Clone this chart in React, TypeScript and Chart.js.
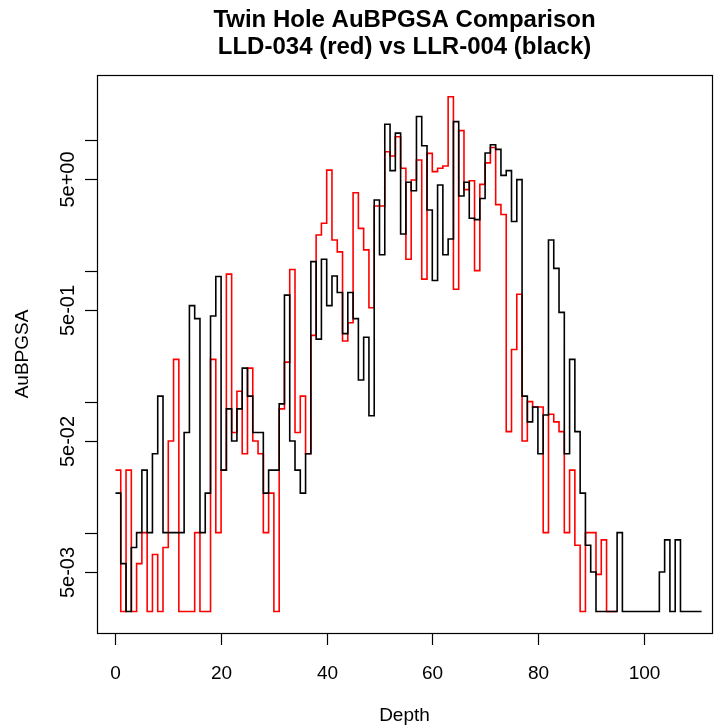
import React, { useEffect, useRef } from "react";
import { Chart, registerables } from "chart.js";

Chart.register(...registerables);

// Depth (sample index, 1 m steps)
const depths: number[] = [
  0, 1, 2, 3, 4, 5, 6, 7, 8, 9, 10, 11, 12, 13, 14, 15, 16, 17, 18, 19,
  20, 21, 22, 23, 24, 25, 26, 27, 28, 29, 30, 31, 32, 33, 34, 35, 36, 37, 38, 39,
  40, 41, 42, 43, 44, 45, 46, 47, 48, 49, 50, 51, 52, 53, 54, 55, 56, 57, 58, 59,
  60, 61, 62, 63, 64, 65, 66, 67, 68, 69, 70, 71, 72, 73, 74, 75, 76, 77, 78, 79,
  80, 81, 82, 83, 84, 85, 86, 87, 88, 89, 90, 91, 92, 93, 94, 95, 96, 97, 98, 99,
  100, 101, 102, 103, 104, 105, 106, 107, 108, 109, 110, 111,
];

// LLR-004 (black)
const blackAu: number[] = [
  0.02, 0.0058, 0.0025, 0.0077, 0.01, 0.03, 0.01, 0.04, 0.11, 0.01,
  0.01, 0.01, 0.01, 0.058, 0.54, 0.43, 0.01, 0.02, 0.45, 0.9,
  0.03, 0.088, 0.05, 0.088, 0.18, 0.11, 0.058, 0.058, 0.02, 0.03,
  0.03, 0.096, 0.65, 0.05, 0.03, 0.02, 0.04, 1.17, 0.3, 1.22,
  0.54, 0.91, 0.68, 0.33, 0.68, 0.43, 0.146, 0.31, 0.078, 3.46,
  1.32, 13.1, 5.79, 11.2, 1.9, 4.72, 4.07, 15, 8.98, 2.9,
  0.84, 4.5, 1.32, 1.74, 13.7, 3.71, 4.72, 2.51, 2.45, 3.55,
  7.9, 9.12, 8.41, 5.33, 5.79, 2.37, 4.95, 0.11, 0.07, 0.091,
  0.04, 0.079, 1.71, 1.04, 0.48, 0.04, 0.21, 0.059, 0.02, 0.008,
  0.005, 0.0025, 0.0025, 0.0025, 0.0025, 0.01, 0.0025, 0.0025, 0.0025, 0.0025,
  0.0025, 0.0025, 0.0025, 0.005, 0.0088, 0.0025, 0.0088, 0.0025, 0.0025, 0.0025,
  0.0025, 0.0025,
];

// LLD-034 (red)
const redAu: number[] = [
  0.03, 0.0025, 0.03, 0.0025, 0.0058, 0.01, 0.0025, 0.0068, 0.0025, 0.0077,
  0.05, 0.21, 0.0025, 0.0025, 0.0025, 0.01, 0.0025, 0.0025, 0.21, 0.01,
  0.03, 0.94, 0.058, 0.12, 0.04, 0.18, 0.05, 0.04, 0.01, 0.02,
  0.0025, 0.088, 0.2, 1.02, 0.058, 0.11, 0.04, 0.32, 1.87, 2.3,
  5.85, 1.71, 1.39, 0.29, 0.4, 3.93, 2.1, 1.44, 0.52, 3.11,
  3.11, 8.07, 7.5, 10.5, 6.04, 1.22, 4.91, 6.98, 0.86, 7.85,
  5.69, 6.04, 6.28, 21.2, 0.72, 11.7, 4.15, 4.85, 1.0, 4.55,
  6.64, 8.69, 3.19, 2.68, 0.059, 0.25, 0.66, 0.05, 0.1, 0.091,
  0.091, 0.01, 0.08, 0.07, 0.059, 0.01, 0.03, 0.008, 0.0025, 0.01,
  0.01, 0.0048, 0.0088, 0.0025, 0.0025, 0.0025,
];

const xTicks: number[] = [0, 20, 40, 60, 80, 100];
const yTicks: number[] = [10, 5, 1, 0.5, 0.1, 0.05, 0.01, 0.005];
const yTickLabels: string[] = ["", "5e+00", "", "5e-01", "", "5e-02", "", "5e-03"];

const titleLines: string[] = [
  "Twin Hole AuBPGSA Comparison",
  "LLD-034 (red) vs LLR-004 (black)",
];
const xTitle = "Depth";
const yTitle = "AuBPGSA";

const FONT = '"Liberation Sans", Arial, sans-serif';

const rAxesPlugin = {
  id: "rAxes",
  afterDraw(chart: any) {
    const ctx: CanvasRenderingContext2D = chart.ctx;
    const { left, right, top, bottom } = chart.chartArea;
    const xs = chart.scales.x;
    const ys = chart.scales.y;
    ctx.save();
    ctx.strokeStyle = "#000";
    ctx.fillStyle = "#000";
    ctx.lineWidth = 1.2;
    // box
    ctx.strokeRect(Math.round(left) + 0.5, Math.round(top) + 0.5, Math.round(right - left), Math.round(bottom - top));
    // x ticks
    ctx.font = `19px ${FONT}`;
    ctx.textAlign = "center";
    ctx.textBaseline = "alphabetic";
    xTicks.forEach((t) => {
      const px = Math.round(xs.getPixelForValue(t)) + 0.5;
      ctx.beginPath();
      ctx.moveTo(px, bottom);
      ctx.lineTo(px, bottom + 12);
      ctx.stroke();
      ctx.fillText(String(t), px, 679);
    });
    // y ticks
    yTicks.forEach((t, i) => {
      const py = Math.round(ys.getPixelForValue(t)) + 0.5;
      ctx.beginPath();
      ctx.moveTo(left, py);
      ctx.lineTo(left - 12, py);
      ctx.stroke();
      const lab = yTickLabels[i];
      if (lab) {
        ctx.save();
        ctx.translate(74, py);
        ctx.rotate(-Math.PI / 2);
        ctx.font = `20px ${FONT}`;
        ctx.textAlign = "center";
        ctx.textBaseline = "alphabetic";
        ctx.fillText(lab, 0, 0);
        ctx.restore();
      }
    });
    // axis titles
    ctx.font = `19px ${FONT}`;
    ctx.textAlign = "center";
    ctx.fillText(xTitle, (left + right) / 2, 721);
    ctx.save();
    ctx.translate(28, (top + bottom) / 2);
    ctx.rotate(-Math.PI / 2);
    ctx.fillText(yTitle, 0, 0);
    ctx.restore();
    // main title
    ctx.font = `bold 24px ${FONT}`;
    ctx.fillText(titleLines[0], (left + right) / 2, 27);
    ctx.fillText(titleLines[1], (left + right) / 2, 54);
    ctx.restore();
  },
};

export default function App() {
  const ref = useRef<HTMLCanvasElement | null>(null);
  useEffect(() => {
    if (!ref.current) return;
    const blackPts = blackAu.map((v, i) => ({ x: depths[i], y: v }));
    const redPts = redAu.map((v, i) => ({ x: depths[i], y: v }));
    const chart = new Chart(ref.current, {
      type: "line",
      data: {
        datasets: [
          {
            label: "LLR-004",
            data: blackPts,
            borderColor: "#000000",
            borderWidth: 1.6,
            stepped: "before",
            pointRadius: 0,
            fill: false,
          },
          {
            label: "LLD-034",
            data: redPts,
            borderColor: "#ff0000",
            borderWidth: 1.6,
            stepped: "before",
            pointRadius: 0,
            fill: false,
          },
        ],
      },
      options: {
        animation: false,
        responsive: false,
        devicePixelRatio: 1,
        layout: { padding: { top: 75, right: 3, left: 0, bottom: 0 } },
        plugins: {
          legend: { display: false },
          title: { display: false },
          tooltip: { enabled: false },
        },
        scales: {
          x: {
            type: "linear",
            min: -3.5,
            max: 112.97,
            grid: { display: false },
            border: { display: false },
            ticks: { display: false },
            afterFit: (s: any) => {
              s.height = 95;
            },
          },
          y: {
            type: "logarithmic",
            min: 0.001712,
            max: 31.11,
            grid: { display: false },
            border: { display: false },
            ticks: { display: false },
            afterFit: (s: any) => {
              s.width = 97;
            },
          },
        },
      } as any,
      plugins: [rAxesPlugin],
    });
    return () => chart.destroy();
  }, []);
  return (
    <div style={{ position: "fixed", left: 0, top: 0, width: 715, height: 728, background: "#fff" }}>
      <canvas ref={ref} width={715} height={728} style={{ width: 715, height: 728, display: "block" }} />
    </div>
  );
}
